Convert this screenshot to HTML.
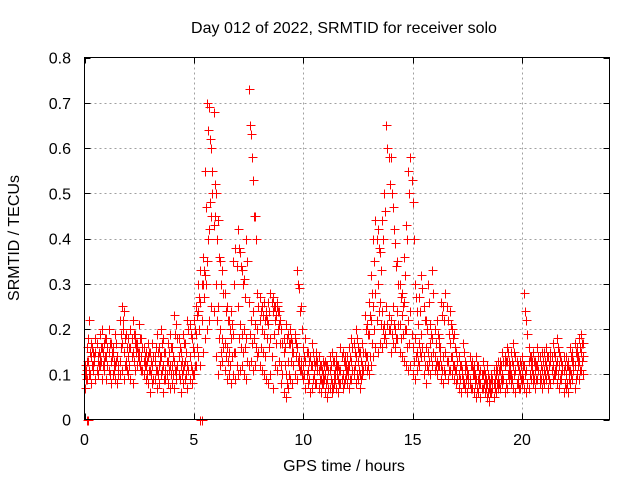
<!DOCTYPE html>
<html><head><meta charset="utf-8"><style>
html,body{margin:0;padding:0;background:#fff;}
svg{display:block;font-family:"Liberation Sans",sans-serif;}
</style></head><body>
<svg id="chart" width="640" height="480" viewBox="0 0 640 480" xmlns="http://www.w3.org/2000/svg">
<rect width="640" height="480" fill="#fff"/>
<text x="344" y="33" font-size="16" text-anchor="middle" fill="#000">Day 012 of 2022, SRMTID for receiver solo</text>
<text transform="translate(19,238) rotate(-90)" font-size="16" text-anchor="middle" fill="#000">SRMTID / TECUs</text>
<text x="344" y="471" font-size="16" text-anchor="middle" fill="#000">GPS time / hours</text>
<g id="grid"></g>
<g id="ticks"></g>
<g id="marks" shape-rendering="crispEdges"></g>
<rect x="84.5" y="57.5" width="525" height="362" fill="none" stroke="#000" stroke-width="1"/>
</svg>
<script>
const xTicks=[0,5,10,15,20];
const yTicks=[0,0.1,0.2,0.3,0.4,0.5,0.6,0.7,0.8];
const yTickLabels=["0","0.1","0.2","0.3","0.4","0.5","0.6","0.7","0.8"];
const hours=[0.0,0.1,0.2,0.3,0.4,0.5,0.6,0.7,0.8,0.9,1.0,1.1,1.2,1.3,1.4,1.5,1.6,1.7,1.8,1.9,2.0,2.1,2.2,2.3,2.4,2.5,2.6,2.7,2.8,2.9,3.0,3.1,3.2,3.3,3.4,3.5,3.6,3.7,3.8,3.9,4.0,4.1,4.2,4.3,4.4,4.5,4.6,4.7,4.8,4.9,5.0,5.1,5.2,5.3,5.4,5.5,5.6,5.7,5.8,5.9,6.0,6.1,6.2,6.3,6.4,6.5,6.6,6.7,6.8,6.9,7.0,7.1,7.2,7.3,7.4,7.5,7.6,7.7,7.8,7.9,8.0,8.1,8.2,8.3,8.4,8.5,8.6,8.7,8.8,8.9,9.0,9.1,9.2,9.3,9.4,9.5,9.6,9.7,9.8,9.9,10.0,10.1,10.2,10.3,10.4,10.5,10.6,10.7,10.8,10.9,11.0,11.1,11.2,11.3,11.4,11.5,11.6,11.7,11.8,11.9,12.0,12.1,12.2,12.3,12.4,12.5,12.6,12.7,12.8,12.9,13.0,13.1,13.2,13.3,13.4,13.5,13.6,13.7,13.8,13.9,14.0,14.1,14.2,14.3,14.4,14.5,14.6,14.7,14.8,14.9,15.0,15.1,15.2,15.3,15.4,15.5,15.6,15.7,15.8,15.9,16.0,16.1,16.2,16.3,16.4,16.5,16.6,16.7,16.8,16.9,17.0,17.1,17.2,17.3,17.4,17.5,17.6,17.7,17.8,17.9,18.0,18.1,18.2,18.3,18.4,18.5,18.6,18.7,18.8,18.9,19.0,19.1,19.2,19.3,19.4,19.5,19.6,19.7,19.8,19.9,20.0,20.1,20.2,20.3,20.4,20.5,20.6,20.7,20.8,20.9,21.0,21.1,21.2,21.3,21.4,21.5,21.6,21.7,21.8,21.9,22.0,22.1,22.2,22.3,22.4,22.5,22.6,22.7,22.8];
const hoursB=[0.05,0.15,0.25,0.35,0.45,0.55,0.65,0.75,0.85,0.95,1.05,1.15,1.25,1.35,1.45,1.55,1.65,1.75,1.85,1.95,2.05,2.15,2.25,2.35,2.45,2.55,2.65,2.75,2.85,2.95,3.05,3.15,3.25,3.35,3.45,3.55,3.65,3.75,3.85,3.95,4.05,4.15,4.25,4.35,4.45,4.55,4.65,4.75,4.85,4.95,5.05,5.15,5.25,5.35,5.45,5.55,5.65,5.75,5.85,5.95,6.05,6.15,6.25,6.35,6.45,6.55,6.65,6.75,6.85,6.95,7.05,7.15,7.25,7.35,7.45,7.55,7.65,7.75,7.85,7.95,8.05,8.15,8.25,8.35,8.45,8.55,8.65,8.75,8.85,8.95,9.05,9.15,9.25,9.35,9.45,9.55,9.65,9.75,9.85,9.95,10.05,10.15,10.25,10.35,10.45,10.55,10.65,10.75,10.85,10.95,11.05,11.15,11.25,11.35,11.45,11.55,11.65,11.75,11.85,11.95,12.05,12.15,12.25,12.35,12.45,12.55,12.65,12.75,12.85,12.95,13.05,13.15,13.25,13.35,13.45,13.55,13.65,13.75,13.85,13.95,14.05,14.15,14.25,14.35,14.45,14.55,14.65,14.75,14.85,14.95,15.05,15.15,15.25,15.35,15.45,15.55,15.65,15.75,15.85,15.95,16.05,16.15,16.25,16.35,16.45,16.55,16.65,16.75,16.85,16.95,17.05,17.15,17.25,17.35,17.45,17.55,17.65,17.75,17.85,17.95,18.05,18.15,18.25,18.35,18.45,18.55,18.65,18.75,18.85,18.95,19.05,19.15,19.25,19.35,19.45,19.55,19.65,19.75,19.85,19.95,20.05,20.15,20.25,20.35,20.45,20.55,20.65,20.75,20.85,20.95,21.05,21.15,21.25,21.35,21.45,21.55,21.65,21.75,21.85,21.95,22.05,22.15,22.25,22.35,22.45,22.55,22.65,22.75];
const satA=[.07,.09,.10,.08,.11,.09,.10,.12,.09,.11, .09,.11,.08,.10,.09,.08,.10,.11,.09,.12, .10,.09,.08,.11,.12,.13,.11,.10,.09,.08, .06,.08,.09,.07,.08,.10,.06,.09,.08,.07, .08,.07,.09,.10,.06,.08,.09,.07,.09,.08, .10,.12,.14,.12,.15,.18,.20,.22,.25,.24, .14,.10,.12,.13,.11,.09,.10,.08,.10,.09, .10,.11,.12,.10,.09,.12,.13,.11,.12,.14, .12,.11,.10,.09,.08,.10,.07,.12,.11,.13, .08,.06,.05,.07,.09,.08,.10,.09,.12,.11, .09,.07,.08,.06,.07,.10,.08,.07,.06,.08, .06,.05,.07,.06,.08,.07,.06,.08,.07,.09, .08,.07,.09,.10,.08,.09,.07,.10,.12,.11, .10,.12,.14,.16,.15,.17,.16,.18,.17,.20, .15,.17,.16,.18,.15,.14,.13,.12,.11,.12, .10,.09,.11,.12,.14,.10,.08,.11,.10,.12, .11,.10,.12,.09,.08,.10,.09,.11,.10,.09, .08,.07,.06,.08,.07,.06,.08,.07,.06,.05, .06,.05,.07,.06,.05,.04,.06,.05,.06,.07, .07,.08,.06,.07,.09,.08,.07,.06,.08,.07, .08,.07,.06,.07,.09,.08,.07,.09,.08,.07, .08,.09,.07,.08,.09,.10,.08,.07,.09,.06, .07,.06,.08,.09,.07,.10,.09,.11,.10];
const satB=[.12,.13,.11,.14,.12,.15,.13,.14,.16,.13, .14,.15,.13,.16,.12,.14,.13,.17,.15,.13, .14,.16,.15,.17,.16,.15,.14,.13,.12,.14, .11,.12,.13,.11,.12,.14,.12,.11,.13,.12, .12,.13,.11,.14,.12,.11,.13,.12,.14,.11, .15,.19,.24,.26,.30,.32,.35,.42,.45,.43, .30,.25,.20,.18,.17,.16,.15,.18,.19,.15, .25,.21,.19,.20,.18,.26,.22,.24,.21,.20, .22,.20,.19,.23,.21,.18,.24,.22,.25,.21, .12,.15,.10,.13,.17,.15,.18,.16,.14,.13, .12,.13,.11,.14,.12,.10,.13,.11,.09,.10, .10,.09,.11,.08,.10,.12,.09,.11,.10,.12, .11,.12,.13,.11,.14,.13,.10,.12,.15,.14, .19,.22,.25,.28,.30,.26,.24,.21,.25,.23, .22,.25,.20,.24,.21,.23,.26,.20,.22,.24, .16,.18,.15,.17,.19,.14,.16,.15,.17,.18, .14,.13,.16,.12,.14,.15,.13,.17,.14,.12, .11,.10,.12,.09,.11,.10,.09,.12,.10,.09, .09,.08,.10,.09,.08,.07,.09,.08,.10,.09, .11,.10,.12,.13,.11,.10,.12,.11,.09,.10, .10,.12,.11,.13,.12,.10,.11,.12,.10,.11, .11,.12,.10,.13,.12,.11,.13,.12,.10,.11, .10,.12,.11,.13,.12,.14,.13,.15,.14];
const satC=[.10,.16,.22,.17,.15,.18,.14,.19,.20,.17, .18,.20,.17,.15,.19,.14,.22,.25,.24,.19, .18,.20,.22,.19,.17,.21,.18,.16,.15,.17, .15,.17,.14,.19,.16,.20,.18,.15,.17,.19, .16,.23,.21,.18,.15,.19,.17,.22,.21,.18, .22,.25,.30,.33,.36,.55,.70,.69,.60,.68, .50,.44,.35,.33,.28,.25,.22,.24,.35,.38, .42,.37,.33,.31,.40,.73,.63,.53,.45,.28, .27,.25,.26,.24,.26,.28,.27,.25,.26,.24, .20,.18,.21,.19,.20,.17,.19,.33,.29,.25, .16,.18,.15,.14,.17,.13,.15,.14,.12,.13, .13,.12,.14,.15,.13,.14,.12,.16,.15,.14, .14,.16,.18,.17,.20,.16,.15,.17,.23,.21, .26,.32,.40,.44,.42,.37,.44,.50,.65,.58, .58,.47,.39,.35,.30,.28,.36,.43,.55,.58, .48,.30,.24,.27,.32,.25,.22,.30,.21,.33, .20,.22,.18,.26,.25,.28,.22,.24,.20,.19, .15,.14,.12,.17,.13,.11,.14,.13,.12,.14, .12,.11,.13,.10,.12,.09,.10,.11,.12,.13, .13,.15,.14,.16,.13,.15,.17,.14,.12,.13, .14,.28,.22,.16,.14,.15,.13,.16,.14,.15, .15,.16,.14,.15,.17,.14,.18,.15,.13,.14, .14,.13,.16,.15,.17,.16,.18,.19,.17];
const satD=[.11,.13,.10,.12,.14,.11,.15,.13,.12,.14, .12,.10,.14,.11,.13,.10,.16,.20,.12,.11, .12,.14,.13,.15,.14,.12,.11,.12,.10,.11, .10,.09,.11,.10,.13,.11,.09,.10,.11,.10, .10,.11,.12,.09,.10,.12,.10,.11,.12,.10, .12,.16,.20,.22,.27,.30,.40,.48,.50,.45, .22,.18,.15,.16,.14,.13,.12,.14,.15,.12, .18,.16,.15,.16,.13,.19,.17,.18,.16,.15, .16,.15,.14,.18,.16,.14,.19,.17,.20,.17, .10,.12,.08,.10,.13,.12,.14,.13,.11,.10, .10,.10,.09,.12,.09,.08,.11,.09,.08,.09, .08,.07,.09,.07,.09,.10,.08,.09,.08,.10, .10,.09,.11,.12,.10,.11,.09,.11,.14,.12, .14,.17,.20,.22,.24,.21,.20,.19,.21,.20, .19,.21,.18,.21,.18,.19,.20,.16,.17,.19, .13,.14,.13,.15,.16,.12,.12,.13,.14,.15, .12,.12,.14,.11,.11,.13,.11,.14,.12,.11, .09,.09,.10,.08,.09,.08,.07,.10,.08,.07, .08,.07,.08,.07,.06,.06,.07,.07,.08,.08, .09,.09,.08,.10,.10,.09,.10,.08,.07,.09, .09,.10,.08,.10,.11,.09,.09,.11,.09,.09, .10,.11,.09,.11,.10,.11,.10,.09,.11,.08, .08,.09,.10,.11,.09,.12,.11,.13];
const satE=[.09,.18,.15,.16,.13,.17,.12,.16,.15,.18, .16,.17,.15,.13,.17,.12,.19,.22,.18,.16, .16,.18,.19,.17,.15,.18,.16,.14,.13,.15, .13,.14,.16,.15,.14,.17,.15,.13,.15,.16, .14,.19,.18,.16,.13,.17,.15,.20,.19,.16, .20,.23,.27,.30,.33,.47,.64,.62,.55,.52, .40,.36,.30,.28,.24,.22,.20,.21,.30,.34, .38,.34,.30,.27,.35,.65,.58,.45,.40,.25, .24,.23,.22,.22,.24,.26,.25,.23,.24,.22, .17,.16,.18,.17,.18,.15,.17,.30,.24,.20, .14,.15,.13,.12,.15,.12,.13,.12,.11,.12, .12,.11,.12,.13,.11,.12,.11,.14,.13,.12, .12,.14,.16,.15,.18,.15,.13,.15,.20,.19, .23,.28,.35,.40,.38,.33,.40,.46,.60,.52, .50,.42,.34,.30,.27,.25,.32,.40,.50,.53, .40,.27,.21,.24,.29,.22,.20,.26,.19,.28, .17,.19,.16,.23,.22,.25,.19,.21,.18,.16, .13,.12,.11,.15,.12,.10,.12,.11,.10,.12, .10,.10,.11,.09,.10,.08,.09,.09,.11,.11, .12,.13,.13,.15,.12,.13,.15,.13,.11,.12, .12,.24,.19,.14,.13,.13,.12,.14,.12,.13, .13,.14,.12,.14,.15,.12,.16,.14,.12,.12, .12,.11,.14,.13,.15,.14,.16,.17];
const zeroHours=[0.1,0.15,5.3,5.35];
const zeroVals=[0,0,0,0];

const X0=84.5,X1=609.5,Y0=419.5,Y1=57.5,XMAX=24,YMAX=0.8;
function xs(v){return X0+(X1-X0)*v/XMAX;}
function ys(v){return Y0-(Y0-Y1)*v/YMAX;}
const NS="http://www.w3.org/2000/svg";
const grid=document.getElementById('grid'),ticks=document.getElementById('ticks'),marks=document.getElementById('marks');
function mk(tag,attrs,parent){const e=document.createElementNS(NS,tag);for(const k in attrs)e.setAttribute(k,attrs[k]);parent.appendChild(e);return e;}
xTicks.forEach(function(t){
  const x=Math.round(xs(t))+0.5;
  if(t>0){const g=mk('line',{x1:x,x2:x,y1:Y1,y2:Y0,stroke:'#a0a0a0','stroke-dasharray':'2,3'},grid);
  
  }
  const a=mk('path',{d:'M'+x+' '+Y0+'V'+(Y0-6)+'M'+x+' '+Y1+'V'+(Y1+6),stroke:'#000'},ticks);
  
  
  const l=mk('text',{x:xs(t),y:445,'font-size':16,'text-anchor':'middle',fill:'#000'},ticks);
  l.textContent=String(t);
  
  
});
yTicks.forEach(function(t,i){
  const y=Math.round(ys(t))+0.5;
  if(t>0&&t<YMAX){const g=mk('line',{x1:X0,x2:X1,y1:y,y2:y,stroke:'#a0a0a0','stroke-dasharray':'2,3'},grid);
  
  }
  const a=mk('path',{d:'M'+X0+' '+y+'H'+(X0+6)+'M'+X1+' '+y+'H'+(X1-6),stroke:'#000'},ticks);
  
  
  const l=mk('text',{x:71,y:ys(t)+6,'font-size':16,'text-anchor':'end',fill:'#000'},ticks);
  l.textContent=yTickLabels[i];
  
  
});
function plus(hx,v){const x=Math.round(xs(hx))+0.5,y=Math.round(ys(v))+0.5;return 'M'+(x-4)+' '+y+'H'+(x+5)+'M'+x+' '+(y-4)+'V'+(y+5);}
function drawSeries(times,series,name){
  let d='';
  for(let i=0;i<times.length;i++){ if(series[i]!==undefined) d+=plus(times[i],series[i]); }
  const p=mk('path',{d:d,stroke:'#ff0000','stroke-width':1,fill:'none'},marks);
  
  
}
drawSeries(hours,satA,'satellite-series-1');
drawSeries(hours,satB,'satellite-series-2');
drawSeries(hours,satC,'satellite-series-3');
drawSeries(hoursB,satD,'satellite-series-4');
drawSeries(hoursB,satE,'satellite-series-5');
drawSeries(zeroHours,zeroVals,'zero-points');
</script>
</body></html>
